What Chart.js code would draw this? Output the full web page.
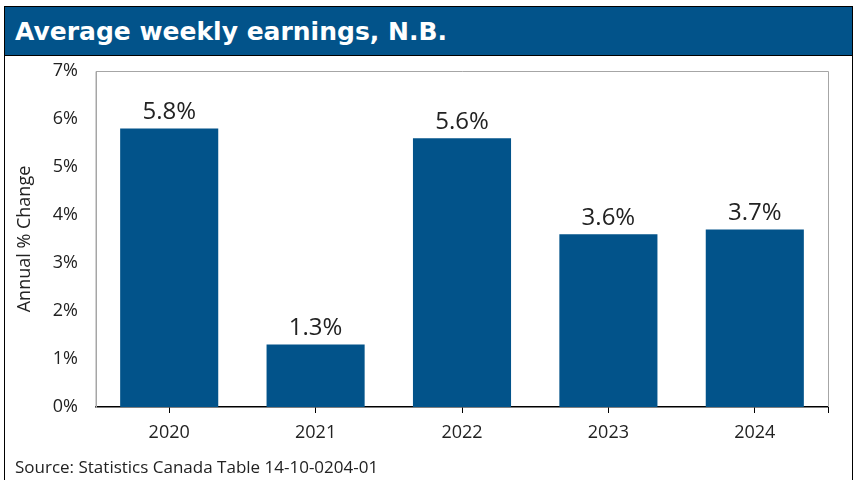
<!DOCTYPE html>
<html>
<head>
<meta charset="utf-8">
<script src="https://cdn.jsdelivr.net/npm/chart.js@4"></script>
<style>
  body { margin: 0; background: #fff; width: 855px; height: 480px; overflow: hidden; }
  #wrap { position: absolute; left: 4px; top: 6px; width: 847px; height: 480px; border: 1px solid #000; }
  #title { height: 48px; background: #02538a; border-bottom: 1px solid #000; color: #fff;
           font: bold 25px "DejaVu Sans", sans-serif; line-height: 50px; padding-left: 10px; }
  #box { position: relative; width: 847px; height: 424px; }
  #chart { display: block; }
  #source { position: absolute; left: 10px; top: 399px; font: 17px "Open Sans", sans-serif; color: #222; }
</style>
</head>
<body>
<div id="wrap">
  <div id="title">Average weekly earnings, N.B.</div>
  <div id="box">
    <canvas id="chart" width="847" height="424"></canvas>
    <div id="source">Source: Statistics Canada Table 14-10-0204-01</div>
  </div>
</div>
<script>
// chart data
var years = ['2020', '2021', '2022', '2023', '2024'];
var changes = [5.8, 1.3, 5.6, 3.6, 3.7];
var yTicks = [0, 1, 2, 3, 4, 5, 6, 7];

var navy = '#02538a';

// value labels above each bar + gray frame on top/right
var extras = {
    id: 'extras',
    beforeDatasetsDraw: function(chart) {
        var ctx = chart.ctx, a = chart.chartArea;
        ctx.save();
        ctx.strokeStyle = '#a6a6a6';
        ctx.lineWidth = 1;
        ctx.beginPath();
        ctx.moveTo(a.left, a.bottom);
        ctx.lineTo(a.left, a.top + 0.5);
        ctx.lineTo(a.right + 0.5, a.top + 0.5);
        ctx.lineTo(a.right + 0.5, a.bottom);
        ctx.stroke();
        ctx.restore();
    },
    afterDatasetsDraw: function(chart) {
        var ctx = chart.ctx, a = chart.chartArea;
        ctx.save();
        ctx.font = '24px "Open Sans", sans-serif';
        ctx.fillStyle = '#222';
        ctx.textAlign = 'center';
        ctx.textBaseline = 'bottom';
        chart.getDatasetMeta(0).data.forEach(function(bar, i) {
            ctx.fillText(changes[i].toFixed(1) + '%', bar.x, bar.y - 4);
        });
        // right end tick of the x axis
        ctx.strokeStyle = '#000';
        ctx.lineWidth = 1;
        ctx.beginPath();
        ctx.moveTo(a.right + 0.5, a.bottom);
        ctx.lineTo(a.right + 0.5, a.bottom + 6);
        ctx.stroke();
        ctx.restore();
    }
};

new Chart(document.getElementById('chart'), {
    type: 'bar',
    data: {
        labels: years,
        datasets: [{
            data: changes,
            backgroundColor: navy,
            borderWidth: 0,
            barPercentage: 0.67,
            categoryPercentage: 1
        }]
    },
    options: {
        responsive: false,
        animation: false,
        layout: { padding: { top: 15, right: 24, bottom: 0, left: 0 } },
        plugins: { legend: { display: false }, tooltip: { enabled: false } },
        scales: {
            x: {
                afterFit: function(s) { s.height = 73; },
                grid: { display: true, drawOnChartArea: false, offset: false, tickLength: 6, color: '#000' },
                border: { display: true, color: '#000', width: 1.5 },
                ticks: { color: '#222', padding: 9, maxRotation: 0, font: { family: 'Open Sans', size: 18 } }
            },
            y: {
                min: 0,
                max: 7,
                afterFit: function(s) { s.width = 91; s.paddingTop = 0; s.paddingBottom = 0; },
                afterBuildTicks: function(s) { s.ticks = yTicks.map(function(v) { return { value: v }; }); },
                grid: { display: false, drawTicks: false },
                border: { display: true, color: '#a6a6a6', width: 1 },
                ticks: {
                    color: '#222',
                    padding: 18,
                    font: { family: 'Open Sans', size: 18 },
                    callback: function(v) { return v + '%'; }
                },
                title: {
                    display: true,
                    text: 'Annual % Change',
                    color: '#222',
                    font: { family: 'Open Sans', size: 18 },
                    padding: { top: 9, bottom: 0 }
                }
            }
        }
    },
    plugins: [extras]
});
</script>
</body>
</html>
